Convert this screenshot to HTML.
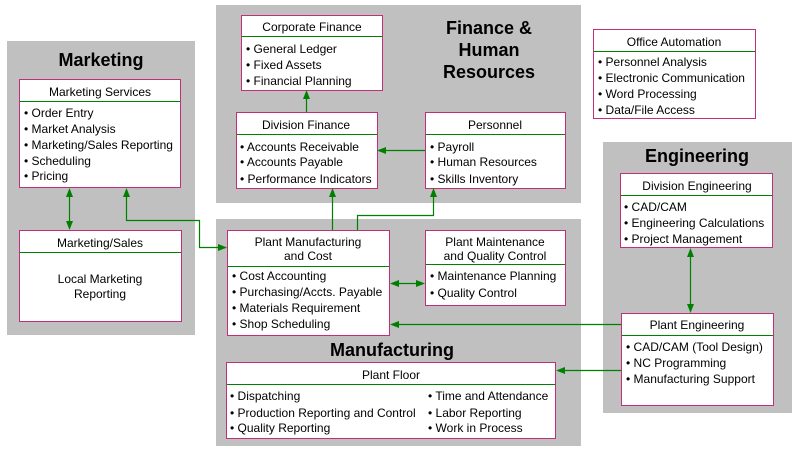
<!DOCTYPE html>
<html><head><meta charset="utf-8"><style>
body{margin:0;background:#fff}
svg{display:block}
text{font-family:"Liberation Sans",Arial,sans-serif;font-size:12px;fill:#000}
.t{font-weight:bold;font-size:18px}
.b{fill:#fff;stroke:#c0307a;stroke-width:1}
.d{stroke:#008000;stroke-width:1}
.c{fill:none;stroke:#008000;stroke-width:1.2}
.a{fill:#008000}
</style></head><body>
<svg width="800" height="456" viewBox="0 0 800 456">
<rect x="7" y="41" width="188" height="294" fill="#c0c0c0"/>
<rect x="216" y="5" width="365" height="198" fill="#c0c0c0"/>
<rect x="216" y="219" width="365" height="227" fill="#c0c0c0"/>
<rect x="603" y="142" width="189" height="271" fill="#c0c0c0"/>

<text class="t" x="101" y="66" text-anchor="middle">Marketing</text>
<text class="t" x="489" y="34" text-anchor="middle">Finance &amp;</text>
<text class="t" x="489" y="56" text-anchor="middle">Human</text>
<text class="t" x="489" y="78" text-anchor="middle">Resources</text>
<text class="t" x="697" y="162" text-anchor="middle">Engineering</text>
<text class="t" x="392" y="356" text-anchor="middle">Manufacturing</text>

<!-- boxes -->
<rect class="b" x="19.5" y="79.5" width="161" height="108"/><line class="d" x1="20" y1="101.5" x2="180" y2="101.5"/>
<text x="100" y="96" text-anchor="middle">Marketing Services</text>
<text x="24" y="117">• Order Entry</text><text x="24" y="133">• Market Analysis</text><text x="24" y="149">• Marketing/Sales Reporting</text><text x="24" y="165">• Scheduling</text><text x="24" y="180">• Pricing</text>

<rect class="b" x="19.5" y="230.5" width="162" height="91"/><line class="d" x1="20" y1="252.5" x2="181" y2="252.5"/>
<text x="100" y="247" text-anchor="middle">Marketing/Sales</text>
<text x="100" y="283" text-anchor="middle">Local Marketing</text><text x="100" y="298" text-anchor="middle">Reporting</text>

<rect class="b" x="241.5" y="15.5" width="141" height="75"/><line class="d" x1="242" y1="36.5" x2="382" y2="36.5"/>
<text x="312" y="31" text-anchor="middle">Corporate Finance</text>
<text x="246" y="53">• General Ledger</text><text x="246" y="69">• Fixed Assets</text><text x="246" y="85">• Financial Planning</text>

<rect class="b" x="236.5" y="112.5" width="141" height="76"/><line class="d" x1="237" y1="134.5" x2="377" y2="134.5"/>
<text x="306" y="129" text-anchor="middle">Division Finance</text>
<text x="240" y="151">• Accounts Receivable</text><text x="240" y="166">• Accounts Payable</text><text x="240" y="183">• Performance Indicators</text>

<rect class="b" x="425.5" y="112.5" width="140" height="76"/><line class="d" x1="426" y1="134.5" x2="565" y2="134.5"/>
<text x="495" y="129" text-anchor="middle">Personnel</text>
<text x="430" y="151">• Payroll</text><text x="430" y="166">• Human Resources</text><text x="430" y="183">• Skills Inventory</text>

<rect class="b" x="593.5" y="29.5" width="162" height="89"/><line class="d" x1="594" y1="51.5" x2="755" y2="51.5"/>
<text x="674" y="46" text-anchor="middle">Office Automation</text>
<text x="598" y="66">• Personnel Analysis</text><text x="598" y="82">• Electronic Communication</text><text x="598" y="98">• Word Processing</text><text x="598" y="114">• Data/File Access</text>

<rect class="b" x="620.5" y="173.5" width="152" height="74"/><line class="d" x1="621" y1="195.5" x2="772" y2="195.5"/>
<text x="697" y="190" text-anchor="middle">Division Engineering</text>
<text x="624" y="211">• CAD/CAM</text><text x="624" y="227">• Engineering Calculations</text><text x="624" y="243">• Project Management</text>

<rect class="b" x="621.5" y="313.5" width="152" height="92"/><line class="d" x1="622" y1="335.5" x2="773" y2="335.5"/>
<text x="697" y="329" text-anchor="middle">Plant Engineering</text>
<text x="626" y="351">• CAD/CAM  (Tool Design)</text><text x="626" y="367">• NC Programming</text><text x="626" y="383">• Manufacturing Support</text>

<rect class="b" x="227.5" y="230.5" width="162" height="105"/><line class="d" x1="228" y1="266.5" x2="389" y2="266.5"/>
<text x="308" y="246" text-anchor="middle">Plant Manufacturing</text><text x="308" y="260" text-anchor="middle">and Cost</text>
<text x="232" y="280">• Cost Accounting</text><text x="232" y="296">• Purchasing/Accts. Payable</text><text x="232" y="312">• Materials Requirement</text><text x="232" y="328">• Shop Scheduling</text>

<rect class="b" x="425.5" y="230.5" width="140" height="75"/><line class="d" x1="426" y1="264.5" x2="565" y2="264.5"/>
<text x="495" y="246" text-anchor="middle">Plant Maintenance</text><text x="495" y="260" text-anchor="middle">and Quality Control</text>
<text x="430" y="280">• Maintenance Planning</text><text x="430" y="297">• Quality  Control</text>

<rect class="b" x="226.5" y="362.5" width="329" height="76"/><line class="d" x1="227" y1="384.5" x2="555" y2="384.5"/>
<text x="391" y="379" text-anchor="middle">Plant Floor</text>
<text x="230" y="400">• Dispatching</text><text x="230" y="417">• Production Reporting and Control</text><text x="230" y="432">• Quality Reporting</text>
<text x="428" y="400">• Time and Attendance</text><text x="428" y="417">• Labor Reporting</text><text x="428" y="432">• Work in Process</text>

<!-- connectors -->
<line class="c" x1="69.5" y1="190" x2="69.5" y2="228"/>
<polygon class="a" points="69.5,188 66,197 73,197"/><polygon class="a" points="69.5,230 66,221 73,221"/>
<polyline class="c" points="226,247.5 199.5,247.5 199.5,220.5 126.5,220.5 126.5,190"/>
<polygon class="a" points="126.5,188 123,197 130,197"/><polygon class="a" points="227,247.5 218,244 218,251"/>
<line class="c" x1="332.5" y1="230" x2="332.5" y2="190"/><polygon class="a" points="332.5,188 329,197 336,197"/>
<polyline class="c" points="357.5,230 357.5,215.5 433.5,215.5 433.5,190"/><polygon class="a" points="433.5,188 430,197 437,197"/>
<line class="c" x1="425" y1="150.5" x2="379" y2="150.5"/><polygon class="a" points="377,150.5 386,147 386,154"/>
<line class="c" x1="306.5" y1="112" x2="306.5" y2="92"/><polygon class="a" points="306.5,90 303,99 310,99"/>
<line class="c" x1="392" y1="283.5" x2="423" y2="283.5"/>
<polygon class="a" points="390,283.5 399,280 399,287"/><polygon class="a" points="425,283.5 416,280 416,287"/>
<line class="c" x1="690.5" y1="250" x2="690.5" y2="311"/>
<polygon class="a" points="690.5,248 687,257 694,257"/><polygon class="a" points="690.5,313 687,304 694,304"/>
<line class="c" x1="621" y1="324.5" x2="392" y2="324.5"/><polygon class="a" points="390,324.5 399,321 399,328"/>
<line class="c" x1="621" y1="370.5" x2="558" y2="370.5"/><polygon class="a" points="556,370.5 565,367 565,374"/>
</svg>
</body></html>
